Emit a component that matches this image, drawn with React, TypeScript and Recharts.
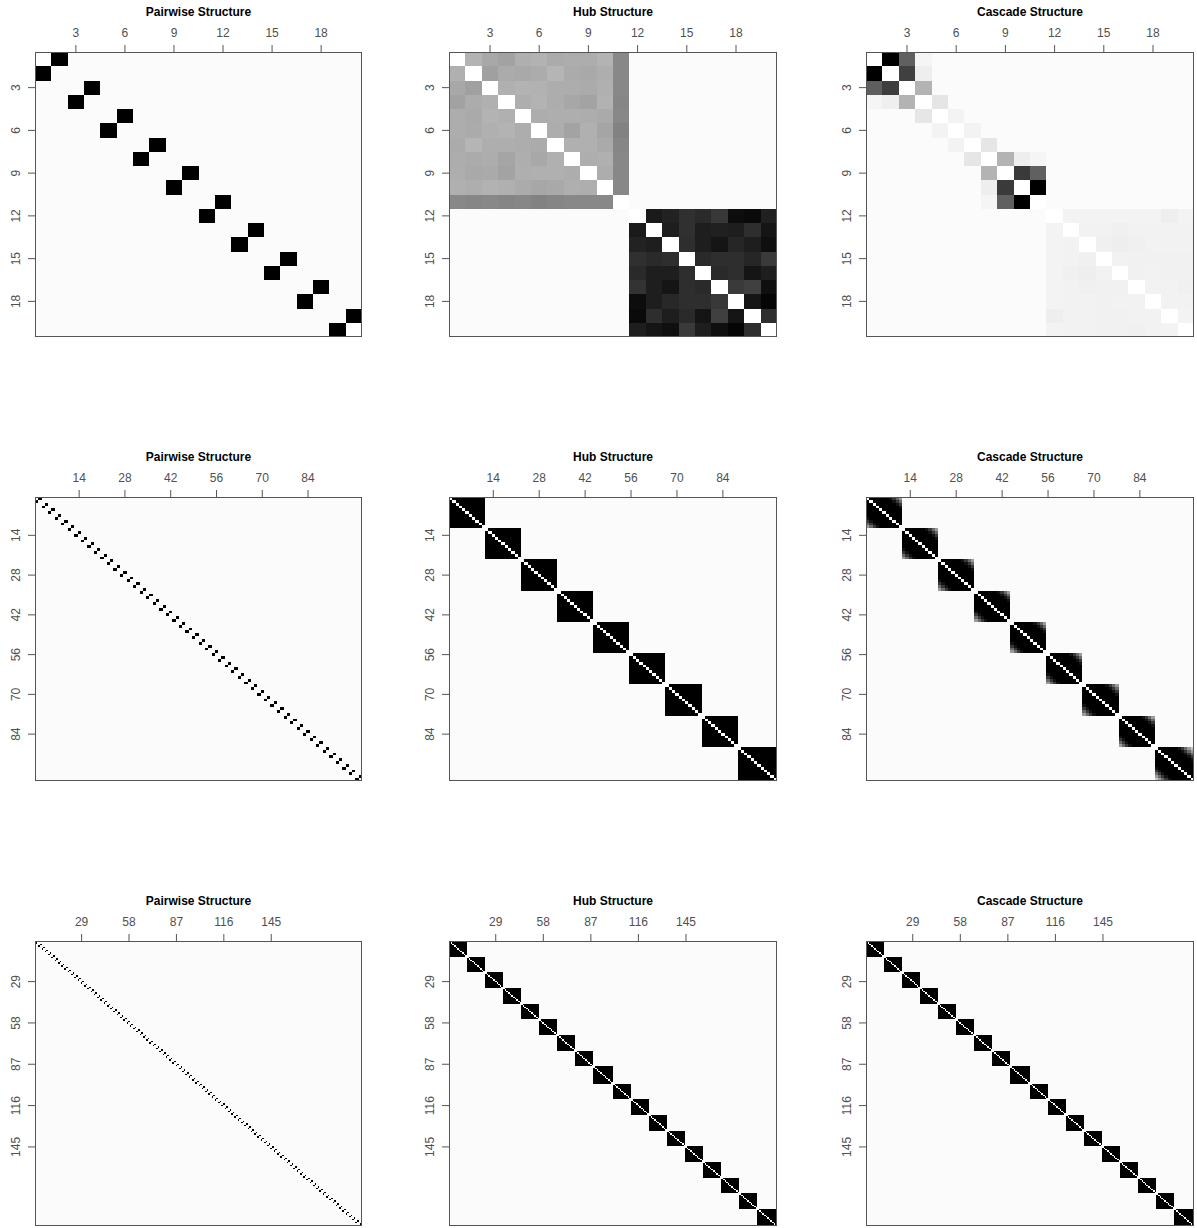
import { ScatterChart, Scatter, XAxis, YAxis, CartesianGrid } from 'recharts'

type Cell = { x: number; y: number; g: number }
type Block = { x: number; y: number; size: number; g: number }

const titles = ['Pairwise Structure', 'Hub Structure', 'Cascade Structure']
const sizes = [20, 100, 200]
const ticks20 = [3, 6, 9, 12, 15, 18]
const ticks100 = [14, 28, 42, 56, 70, 84]
const ticks200 = [29, 58, 87, 116, 145]

// gray levels, 0 = black, 255 = white
const hubGroupA = [
  [255, 179, 168, 162, 175, 178, 171, 173, 173, 179],
  [176, 255, 160, 171, 169, 172, 181, 171, 169, 174],
  [168, 160, 255, 176, 179, 178, 173, 173, 171, 176],
  [162, 172, 176, 255, 174, 179, 173, 167, 163, 178],
  [173, 170, 179, 176, 255, 173, 174, 174, 173, 170],
  [173, 171, 176, 179, 173, 255, 173, 163, 176, 165],
  [171, 181, 174, 174, 173, 171, 255, 176, 176, 170],
  [173, 171, 173, 165, 174, 168, 176, 255, 174, 176],
  [174, 169, 170, 163, 175, 176, 176, 173, 255, 173],
  [176, 174, 178, 176, 171, 167, 169, 175, 174, 255],
]
const hubNodeCol = [136, 136, 136, 134, 136, 130, 134, 136, 136, 136]
const hubNodeRow = [136, 134, 136, 133, 135, 130, 133, 136, 136, 136]
const hubGroupB = [
  [255, 26, 34, 48, 42, 56, 13, 10, 32],
  [26, 255, 30, 48, 30, 32, 30, 46, 21],
  [34, 30, 255, 46, 30, 21, 38, 30, 15],
  [48, 42, 46, 255, 42, 46, 46, 38, 58],
  [42, 30, 30, 46, 255, 42, 46, 21, 30],
  [51, 30, 21, 46, 42, 255, 58, 64, 15],
  [13, 30, 40, 46, 46, 56, 255, 21, 5],
  [10, 46, 30, 42, 21, 64, 21, 255, 46],
  [30, 21, 15, 58, 30, 15, 5, 46, 255],
]

// [row, col, gray] for the 20-node cascade panel, nodes 1..11
const cascadeHead: [number, number, number][] = [
  [1, 2, 0], [1, 3, 96], [1, 4, 245],
  [2, 1, 0], [2, 3, 64], [2, 4, 238],
  [3, 1, 94], [3, 2, 62], [3, 4, 179],
  [4, 1, 245], [4, 2, 239], [4, 3, 179], [4, 5, 229],
  [5, 4, 230], [5, 6, 243],
  [6, 5, 243], [6, 7, 243],
  [7, 6, 243], [7, 8, 230],
  [8, 7, 230], [8, 9, 179], [8, 10, 238], [8, 11, 245],
  [9, 8, 179], [9, 10, 58], [9, 11, 96],
  [10, 8, 238], [10, 9, 58], [10, 11, 0],
  [11, 8, 245], [11, 9, 96], [11, 10, 0],
]
// nodes 12..20 of the 20-node cascade panel
const cascadeTail = [
  [255, 243, 243, 243, 243, 243, 243, 238, 243],
  [243, 255, 242, 242, 240, 242, 242, 242, 242],
  [243, 242, 255, 240, 238, 240, 242, 242, 242],
  [243, 242, 240, 255, 242, 241, 241, 241, 241],
  [243, 240, 238, 242, 255, 241, 242, 241, 241],
  [243, 242, 240, 241, 241, 255, 242, 242, 240],
  [243, 242, 242, 241, 242, 242, 255, 242, 242],
  [238, 242, 242, 241, 241, 242, 242, 255, 243],
  [243, 242, 242, 241, 241, 240, 242, 243, 255],
]
// white corner cells of the 20-node pairwise panel
const pairCorners20: [number, number, number][] = [[1, 1, 255], [20, 20, 255]]

const blocks100 = [11, 11, 11, 11, 11, 11, 11, 11, 12]
const blocks200 = [11, 11, 11, 11, 11, 11, 11, 11, 12, 11, 11, 11, 11, 11, 11, 11, 11, 12]

// gray by distance from the diagonal inside a block (index 0 = diagonal)
const pairFade = [251]
const hubFade = [255]
const cascadeFade100 = [255, 0, 0, 0, 0, 0, 0, 18, 55, 105, 155, 200]
const cascadeFade200 = [255]

// layout
const colLeft = [35, 449, 866]
const colWidth = [327, 328, 328]
const rowTop = [52, 497, 941]
const rowHeight = [285, 284, 285]

const BG = '#fbfbfb'
const FONT = '"Liberation Sans", Arial, sans-serif'
const gray = (g: number) => `rgb(${g},${g},${g})`

function fromMatrix(rows: number[][], offset: number): Cell[] {
  const out: Cell[] = []
  rows.forEach((row, i) => row.forEach((g, j) => out.push({ x: offset + j + 1, y: offset + i + 1, g })))
  return out
}

function blockStructure(list: number[], fade: number[]) {
  const blocks: Block[] = []
  const cells: Cell[] = []
  let start = 1
  list.forEach((s) => {
    const end = start + s - 1
    blocks.push({ x: (start + end) / 2, y: (start + end) / 2, size: s, g: 0 })
    for (let i = start; i <= end; i++)
      for (let j = start; j <= end; j++) {
        const g = fade[Math.abs(i - j)] ?? 0
        if (g > 0) cells.push({ x: j, y: i, g })
      }
    start = end + 1
  })
  return { blocks, cells }
}

const pairs = (n: number) => Array.from({ length: n / 2 }, () => 2)

const pair20 = blockStructure(pairs(20), pairFade)
pair20.cells.push(...pairCorners20.map(([r, c, g]) => ({ x: c, y: r, g })))

const hub20Cells: Cell[] = [
  ...fromMatrix(hubGroupA, 0),
  ...hubNodeCol.map((g, i) => ({ x: 11, y: i + 1, g })),
  ...hubNodeRow.map((g, j) => ({ x: j + 1, y: 11, g })),
  { x: 11, y: 11, g: 255 },
  ...fromMatrix(hubGroupB, 11),
]
const cascade20Cells: Cell[] = [
  ...Array.from({ length: 11 }, (_, i) => ({ x: i + 1, y: i + 1, g: 255 })),
  ...cascadeHead.map(([r, c, g]) => ({ x: c, y: r, g })),
  ...fromMatrix(cascadeTail, 11),
]

const panels = [
  [
    pair20,
    { blocks: [] as Block[], cells: hub20Cells },
    { blocks: [] as Block[], cells: cascade20Cells },
  ],
  [
    blockStructure(pairs(100), pairFade),
    blockStructure(blocks100, hubFade),
    blockStructure(blocks100, cascadeFade100),
  ],
  [
    blockStructure(pairs(200), pairFade),
    blockStructure(blocks200, hubFade),
    blockStructure(blocks200, cascadeFade200),
  ],
]
const tickSets = [ticks20, ticks100, ticks200]

const TopTick = (props: any) => {
  const { x, y, payload } = props
  return (
    <text x={x} y={y} textAnchor="middle" fontSize={12} fill="#505050" fontFamily={FONT}>
      {payload.value}
    </text>
  )
}

const LeftTick = (props: any) => {
  const { x, y, payload } = props
  return (
    <text x={x} y={y} textAnchor="middle" fontSize={12} fill="#505050" fontFamily={FONT} transform={`rotate(-90, ${x}, ${y})`}>
      {payload.value}
    </text>
  )
}

const ML = 40
const MT = 50

function Panel({ title, n, ticks, left, top, w, h, blocks, cells }: any) {
  const cw = w / n
  const ch = h / n
  const blockShape = (p: any) => {
    const bw = p.payload.size * cw
    const bh = p.payload.size * ch
    return <rect x={p.cx - bw / 2} y={p.cy - bh / 2} width={bw} height={bh} fill={gray(p.payload.g)} shapeRendering="crispEdges" />
  }
  const cellShape = (p: any) => (
    <rect x={p.cx - cw / 2} y={p.cy - ch / 2} width={cw} height={ch} fill={gray(p.payload.g)} shapeRendering="crispEdges" />
  )
  const frameShape = (p: any) => (
    <rect x={p.cx - w / 2 + 0.5} y={p.cy - h / 2 + 0.5} width={w - 1} height={h - 1} fill="none" stroke="#555" />
  )
  const frame = [{ x: (n + 1) / 2, y: (n + 1) / 2 }]
  return (
    <div style={{ position: 'absolute', left: left - ML, top: top - MT }}>
      <div
        style={{
          position: 'absolute', left: ML, top: MT - 47, width: w, textAlign: 'center',
          fontFamily: FONT, fontWeight: 'bold', fontSize: 12, lineHeight: '14px', color: '#000',
        }}
      >
        {title}
      </div>
      <ScatterChart width={ML + w + 5} height={MT + h + 5} margin={{ top: 20, right: 5, bottom: 5, left: 0 }}>
        <CartesianGrid horizontal={false} vertical={false} fill={BG} fillOpacity={1} />
        <XAxis
          type="number" dataKey="x" orientation="top" domain={[0.5, n + 0.5]} allowDataOverflow
          ticks={ticks} interval={0} height={30} tickSize={7} tickMargin={8}
          axisLine={false} tickLine={{ stroke: '#555' }} tick={<TopTick />}
        />
        <YAxis
          type="number" dataKey="y" reversed domain={[0.5, n + 0.5]} allowDataOverflow
          ticks={ticks} interval={0} width={40} tickSize={7} tickMargin={8}
          axisLine={false} tickLine={{ stroke: '#555' }} tick={<LeftTick />}
        />
        <Scatter data={blocks} shape={blockShape} isAnimationActive={false} />
        <Scatter data={cells} shape={cellShape} isAnimationActive={false} />
        <Scatter data={frame} shape={frameShape} isAnimationActive={false} />
      </ScatterChart>
    </div>
  )
}

export default function App() {
  return (
    <div style={{ position: 'absolute', left: 0, top: 0, width: 1197, height: 1228, background: '#fff' }}>
      {panels.map((row, r) =>
        row.map((pd, c) => (
          <Panel
            key={`${r}-${c}`}
            title={titles[c]}
            n={sizes[r]}
            ticks={tickSets[r]}
            left={colLeft[c]}
            top={rowTop[r]}
            w={colWidth[c]}
            h={rowHeight[r]}
            blocks={pd.blocks}
            cells={pd.cells}
          />
        ))
      )}
    </div>
  )
}
